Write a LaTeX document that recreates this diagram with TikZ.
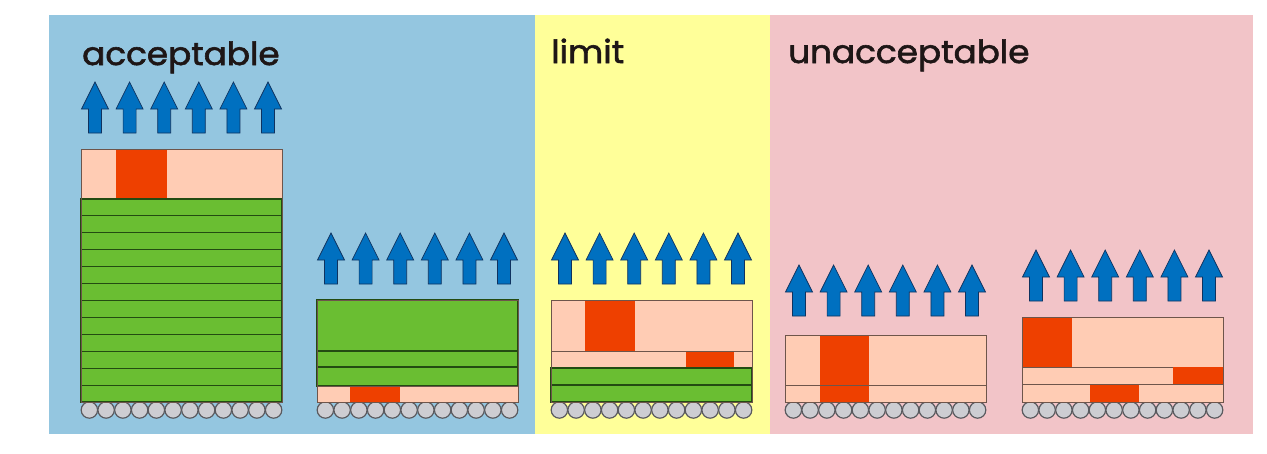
\documentclass[tikz,border=0pt]{standalone}
\usepackage{fontspec}
\setmainfont{Poppins}
\newfontfamily\labfont{Poppins}[FakeBold=1.8]
\definecolor{pblue}{RGB}{148,198,224}
\definecolor{pyellow}{RGB}{255,255,153}
\definecolor{ppink}{RGB}{242,196,200}
\definecolor{lgreen}{RGB}{106,190,50}
\definecolor{lgreenline}{RGB}{35,75,18}
\definecolor{lpink}{RGB}{255,204,180}
\definecolor{lred}{RGB}{238,64,0}
\definecolor{boxline}{RGB}{110,85,75}
\definecolor{rollfill}{RGB}{205,205,210}
\definecolor{rollline}{RGB}{90,90,95}
\definecolor{arrfill}{RGB}{0,112,192}
\definecolor{arrline}{RGB}{15,50,95}
\definecolor{txt}{RGB}{30,22,22}
\tikzset{
  arrowstyle/.style={fill=arrfill,draw=arrline,line width=0.7pt,line join=miter},
  roller/.style={fill=rollfill,draw=rollline,line width=1.2pt},
  greenlayer/.style={fill=lgreen,draw=lgreenline,line width=1.1pt},
  pinklayer/.style={fill=lpink,draw=boxline,line width=0.9pt},
  redpart/.style={fill=lred,draw=none},
  outline/.style={draw=boxline,line width=0.9pt},
  label/.style={anchor=base west,inner sep=0pt,text=txt,font=\fontsize{32}{36}\labfont}
}
\newcommand\wide[1]{\scalebox{1.07}[1]{#1}}
\newcommand\arrowrow[2]{%
  \foreach \i in {0,...,5}{%
    \pgfmathsetmacro\cx{#1+14+34.6*\i}%
    \draw[arrowstyle] (\cx,#2) -- ++(13.5,27) -- ++(-7,0) -- ++(0,24) -- ++(-13,0) -- ++(0,-24) -- ++(-7,0) -- cycle;
  }}
\newcommand\rollers[1]{%
  \foreach \i in {0,...,11}{%
    \draw[roller] ({#1+8.375+16.75*\i},410) circle[radius=8.2pt];
  }}
\begin{document}
\begin{tikzpicture}[x=1pt,y=-1pt]
\useasboundingbox (0,0) rectangle (1267,453);
\fill[white] (0,0) rectangle (1267,453);
% panels
\fill[pblue] (49,15) rectangle (535,434);
\fill[pyellow] (535,15) rectangle (770,434);
\fill[ppink] (770,15) rectangle (1253,434);
% labels
\node[label] (lacc) at (82,65) {\wide{acceptable}};
\node[label] (llim) at (551,63) {\wide{limit}};
\node[label] (lunacc) at (788,63) {\wide{unacceptable}};
% ---- block 1
\arrowrow{81}{82}
\rollers{81}
\draw[pinklayer] (81,149) rectangle (282,199);
\fill[redpart] (116,149) rectangle (167,199);
\foreach \k in {0,...,11}{
  \draw[greenlayer] (81,{199+16.917*\k}) rectangle (282,{199+16.917*(\k+1)});
}
\draw[outline] (81,149) rectangle (282,402);
% ---- block 2
\arrowrow{317}{233}
\rollers{317}
\draw[greenlayer] (317,300) rectangle (518,351);
\draw[greenlayer] (317,351) rectangle (518,367);
\draw[greenlayer] (317,367) rectangle (518,386);
\draw[pinklayer] (317,386) rectangle (518,402);
\fill[redpart] (350,387) rectangle (400,402);
\draw[outline] (317,300) rectangle (518,402);
% ---- limit block
\arrowrow{551}{233}
\rollers{551}
\draw[pinklayer] (551,300) rectangle (752,351);
\fill[redpart] (585,300) rectangle (635,351);
\draw[pinklayer] (551,351) rectangle (752,368);
\fill[redpart] (686,352) rectangle (734,368);
\draw[greenlayer] (551,368) rectangle (752,385);
\draw[greenlayer] (551,385) rectangle (752,402);
\draw[outline] (551,300) rectangle (752,402);
% ---- unacceptable block 1
\arrowrow{785}{265}
\rollers{785}
\draw[pinklayer] (785,335) rectangle (986,385);
\draw[pinklayer] (785,385) rectangle (986,402);
\fill[redpart] (820,335) rectangle (869,402);
\draw[boxline,line width=0.6pt] (820,385) -- (869,385);
\draw[outline] (785,335) rectangle (986,402);
% ---- unacceptable block 2
\arrowrow{1022}{250}
\rollers{1022}
\draw[pinklayer] (1022,317) rectangle (1223,367);
\fill[redpart] (1022,317) rectangle (1072,367);
\draw[pinklayer] (1022,367) rectangle (1223,384);
\fill[redpart] (1173,367) rectangle (1223,384);
\draw[pinklayer] (1022,384) rectangle (1223,402);
\fill[redpart] (1090,385) rectangle (1139,402);
\draw[outline] (1022,317) rectangle (1223,402);
\end{tikzpicture}
\end{document}
